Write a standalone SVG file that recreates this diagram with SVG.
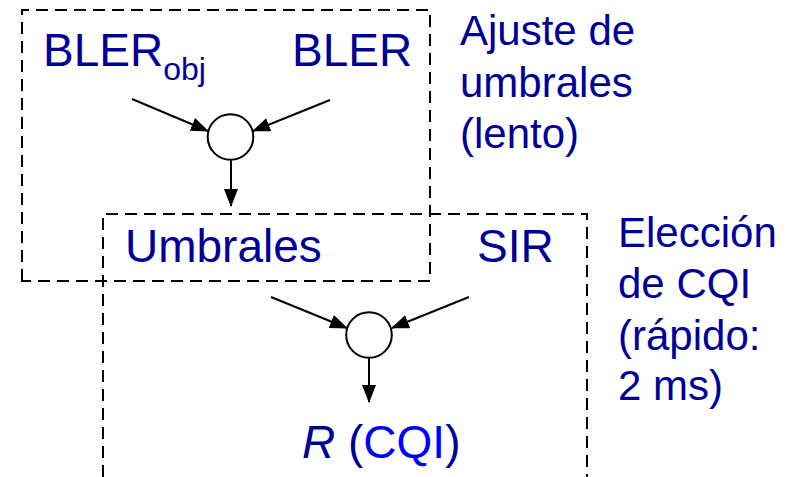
<svg xmlns="http://www.w3.org/2000/svg" width="789" height="477" viewBox="0 0 789 477">
<defs>
<style>
.t{font-family:"Liberation Sans",Arial,sans-serif;font-size:46px;fill:#000099}
.lab{font-size:42px}
.sub{font-size:32px}
.box{fill:none;stroke:#000;stroke-width:2;stroke-dasharray:12 7}
.ln{stroke:#000;stroke-width:2;fill:none;marker-end:url(#ah)}
.node{fill:#fff;stroke:#000;stroke-width:2}
</style>
<marker id="ah" markerWidth="18" markerHeight="14" refX="17" refY="7" orient="auto" markerUnits="userSpaceOnUse">
<path d="M0,0 L18,7 L0,14 Z" fill="#000"/>
</marker>
</defs>
<rect width="789" height="477" fill="#fff"/>
<g id="box-ajuste">
<path class="box" d="M22,281 L22,10 L430,10 L430,281 Z"/>
</g>
<g id="box-eleccion">
<path class="box" d="M103,477 L103,214 L587,214 L587,477"/>
</g>
<g id="connectors">
<line class="ln" x1="132" y1="99" x2="208" y2="131"/>
<line class="ln" x1="330" y1="100" x2="253" y2="131"/>
<line class="ln" x1="231" y1="160" x2="231" y2="206"/>
<line class="ln" x1="271" y1="297" x2="347" y2="328"/>
<line class="ln" x1="469" y1="297" x2="392" y2="328"/>
<line class="ln" x1="369" y1="358" x2="369" y2="402"/>
</g>
<g id="node-sum1"><circle class="node" cx="230.5" cy="137" r="22.8"/></g>
<g id="node-sum2"><circle class="node" cx="369" cy="335" r="22.8"/></g>
<g id="node-bler-obj"><text class="t" x="43" y="66">BLER<tspan class="sub" dy="14">obj</tspan></text></g>
<g id="node-bler"><text class="t" x="292" y="66">BLER</text></g>
<g id="node-umbrales"><text class="t" x="125" y="262">Umbrales</text></g>
<g id="node-sir"><text class="t" x="477" y="262">SIR</text></g>
<g id="node-r"><text class="t" x="302" y="458"><tspan font-style="italic">R</tspan> (<tspan fill="#0000ff">CQI</tspan>)</text></g>
<g id="label-ajuste">
<text class="t lab" x="460" y="45">Ajuste de</text>
<text class="t lab" x="460" y="97">umbrales</text>
<text class="t lab" x="460" y="148">(lento)</text>
</g>
<g id="label-eleccion">
<text class="t lab" x="618" y="247">Elección</text>
<text class="t lab" x="618" y="298">de CQI</text>
<text class="t lab" x="618" y="350">(rápido:</text>
<text class="t lab" x="618" y="400">2 ms)</text>
</g>
</svg>
